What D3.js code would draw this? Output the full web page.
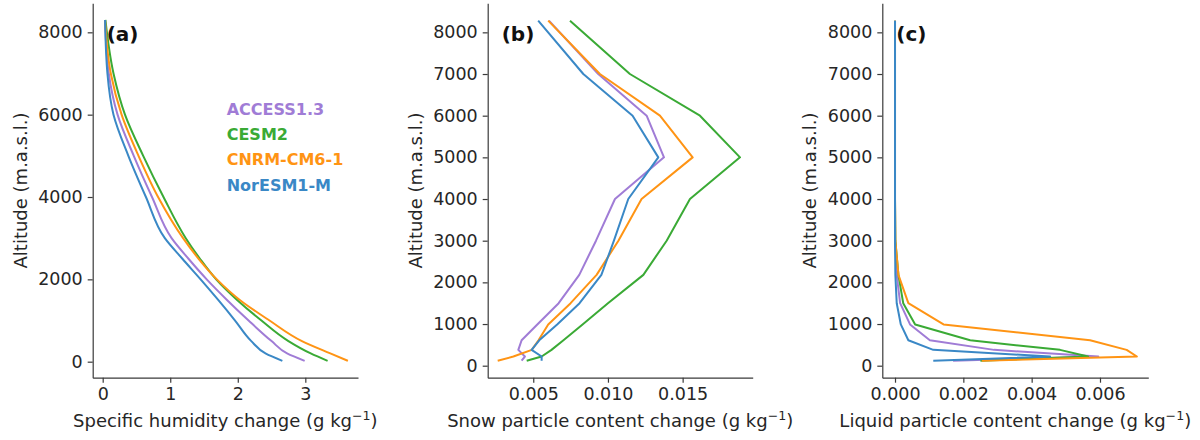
<!DOCTYPE html>
<html>
<head>
<meta charset="utf-8">
<script src="https://cdn.jsdelivr.net/npm/d3@7"></script>
<style>
  body { margin: 0; background: #fff; }
  text { font-family: "DejaVu Sans", sans-serif; fill: #262626; }
  .axis path, .axis line { stroke: #3a3a3a; stroke-width: 1.2; }
  .axis text { font-size: 17.5px; fill: #262626; }
  .title { font-size: 18px; }
  .panel-label { font-size: 20px; font-weight: bold; fill: #111; }
  .legend text { font-size: 16px; font-weight: bold; }
</style>
</head>
<body>
<div id="vis"></div>
<script>
// Vertical profiles of specific humidity, snow and liquid particle content change

/* *************************** Data ***************************** */

var models = ['ACCESS1.3', 'CESM2', 'CNRM-CM6-1', 'NorESM1-M'];
var colors = ['#a07cd6', '#3aaa35', '#ff9414', '#3a88c6'];

// panel (a): altitude levels (m a.s.l.) and specific humidity change (g/kg)
var altA = [20, 200, 500, 1000, 1500, 2000, 2500, 3000, 4000, 5000, 6000, 7000, 8300];
var humAccess = [2.99, 2.73, 2.50, 2.16, 1.84, 1.54, 1.27, 1.02, 0.73, 0.46, 0.22, 0.09, 0.035];
var humCesm = [3.33, 3.08, 2.75, 2.35, 1.99, 1.68, 1.44, 1.23, 0.90, 0.60, 0.33, 0.16, 0.04];
var humCnrm = [3.63, 3.37, 2.95, 2.47, 2.03, 1.69, 1.42, 1.19, 0.82, 0.53, 0.28, 0.12, 0.035];
var humNor = [2.66, 2.41, 2.20, 1.96, 1.71, 1.45, 1.18, 0.92, 0.64, 0.38, 0.16, 0.07, 0.035];

// panels (b) and (c): model levels
var altBC = [120, 220, 380, 610, 990, 1500, 2180, 3000, 4000, 5000, 6000, 7000, 8280];
var snowAccess = [0.00422, 0.00444, 0.00400, 0.00422, 0.00527, 0.00670, 0.00808, 0.00920, 0.01047, 0.01375, 0.01259, 0.00935, 0.00605];
var snowCesm = [0.00456, 0.00556, 0.00622, 0.00702, 0.00830, 0.01000, 0.01237, 0.01393, 0.01549, 0.01884, 0.01616, 0.01147, 0.00746];
var snowCnrm = [0.00262, 0.00367, 0.00490, 0.00535, 0.00600, 0.00750, 0.00924, 0.01070, 0.01225, 0.01567, 0.01348, 0.00946, 0.00600];
var snowNor = [0.00556, 0.00556, 0.00489, 0.00540, 0.00660, 0.00810, 0.00956, 0.01040, 0.01136, 0.01337, 0.01165, 0.00835, 0.00533];

var liqAccess = [0.00170, 0.00595, 0.00290, 0.00102, 0.00044, 0.00015, 0.00005, 0.000005, 0, 0, 0, 0, 0];
var liqCesm = [0.00250, 0.00565, 0.00483, 0.00220, 0.00059, 0.00024, 0.00010, 0.00001, 0, 0, 0, 0, 0];
var liqCnrm = [0.00254, 0.00708, 0.00678, 0.00571, 0.00142, 0.00039, 0.00010, 0.00001, 0, 0, 0, 0, 0];
var liqNor = [0.00112, 0.00454, 0.00112, 0.00039, 0.00017, 0.00005, 0.00001, 0, 0, 0, 0, 0, 0];

var yTicksA = [0, 2000, 4000, 6000, 8000];
var yTicksBC = [0, 1000, 2000, 3000, 4000, 5000, 6000, 7000, 8000];
var xTicksA = [0, 1, 2, 3];
var xTicksB = [0.005, 0.010, 0.015];
var xTicksC = [0.000, 0.002, 0.004, 0.006];

/* *************************** Settings ***************************** */

var width = 1200;
var height = 440;
var plotTop = 3.3;
var plotBottom = 377.7;

var panels = [
    {
        label: '(a)', left: 92.7, right: 358, xDomain: [-0.148, 3.78], yDomain: [-389, 8705],
        alt: altA, series: [humAccess, humCesm, humCnrm, humNor],
        xTicks: xTicksA, yTicks: yTicksA, xFormat: d3.format('d'),
        xTitle: 'Specific humidity change', curve: d3.curveMonotoneY, legend: true
    },
    {
        label: '(b)', left: 487.7, right: 752.7, xDomain: [0.00195, 0.01969], yDomain: [-288, 8697],
        alt: altBC, series: [snowAccess, snowCesm, snowCnrm, snowNor],
        xTicks: xTicksB, yTicks: yTicksBC, xFormat: d3.format('.3f'),
        xTitle: 'Snow particle content change', curve: d3.curveLinear
    },
    {
        label: '(c)', left: 882.3, right: 1148.3, xDomain: [-0.000372, 0.007414], yDomain: [-288, 8697],
        alt: altBC, series: [liqAccess, liqCesm, liqCnrm, liqNor],
        xTicks: xTicksC, yTicks: yTicksBC, xFormat: d3.format('.3f'),
        xTitle: 'Liquid particle content change', curve: d3.curveLinear
    }
];

var svg = d3.select('#vis')
    .append('svg')
    .attr('width', width)
    .attr('height', height);

/* *************************** Draw ***************************** */

panels.forEach(function(p) {
    var xScale = d3.scaleLinear().domain(p.xDomain).range([p.left, p.right]);
    var yScale = d3.scaleLinear().domain(p.yDomain).range([plotBottom, plotTop]);

    // profiles
    var line = d3.line()
        .x(function(d) { return xScale(d[0]); })
        .y(function(d) { return yScale(d[1]); })
        .curve(p.curve);

    p.series.forEach(function(vals, i) {
        var pts = vals.map(function(v, j) { return [v, p.alt[j]]; });
        svg.append('path')
            .datum(pts)
            .attr('d', line)
            .attr('fill', 'none')
            .attr('stroke', colors[i])
            .attr('stroke-width', 2)
            .attr('stroke-linejoin', 'round');
    });

    // axes (left and bottom spines only)
    svg.append('g')
        .attr('class', 'axis')
        .attr('transform', 'translate(' + p.left + ',0)')
        .call(d3.axisLeft(yScale).tickValues(p.yTicks).tickFormat(d3.format('d'))
            .tickSizeInner(5).tickSizeOuter(0).tickPadding(5));

    svg.append('g')
        .attr('class', 'axis')
        .attr('transform', 'translate(0,' + plotBottom + ')')
        .call(d3.axisBottom(xScale).tickValues(p.xTicks).tickFormat(p.xFormat)
            .tickSizeInner(5).tickSizeOuter(0).tickPadding(5));

    // axis titles
    svg.append('text')
        .attr('class', 'title')
        .attr('transform', 'translate(' + (p.left - 66) + ',' + ((plotTop + plotBottom) / 2) + ') rotate(-90)')
        .attr('text-anchor', 'middle')
        .text('Altitude (m.a.s.l.)');

    var xt = svg.append('text')
        .attr('class', 'title')
        .attr('x', (p.left + p.right) / 2)
        .attr('y', 427)
        .attr('text-anchor', 'middle');
    xt.append('tspan').text(p.xTitle + ' (g kg');
    xt.append('tspan').attr('dy', -7).style('font-size', '12.6px').text('\u22121');
    xt.append('tspan').attr('dy', 7).text(')');

    // panel letter
    svg.append('text')
        .attr('class', 'panel-label')
        .attr('x', p.left + 14)
        .attr('y', 41)
        .text(p.label);

    if (p.legend) {
        var lg = svg.append('g').attr('class', 'legend');
        models.forEach(function(m, i) {
            lg.append('text')
                .attr('x', 226.7)
                .attr('y', 115 + i * 25.2)
                .style('fill', colors[i])
                .text(m);
        });
    }
});
</script>
</body>
</html>
